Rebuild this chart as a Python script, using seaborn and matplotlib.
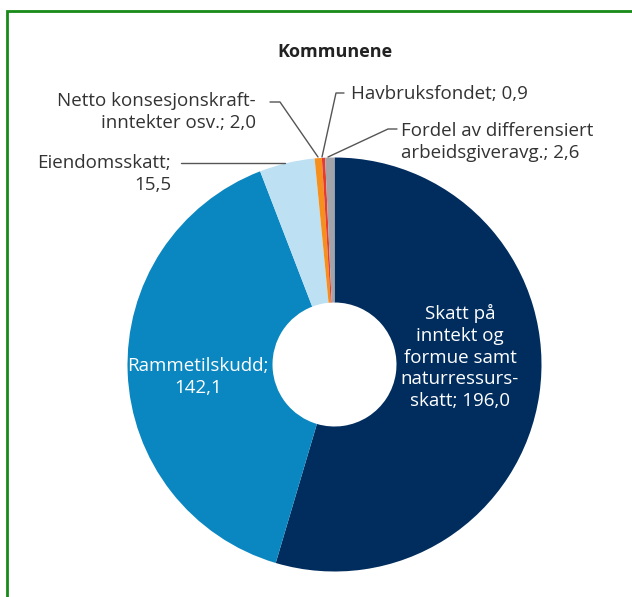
import matplotlib.pyplot as plt
import seaborn as sns

# verdier (mrd. kroner)
categories = ["Skatt på\ninntekt og\nformue samt\nnaturressurs-\nskatt",
              "Rammetilskudd;\n", "Eiendomsskatt;\n",
              "Netto konsesjonskraft-\ninntekter osv.; ",
              "Havbruksfondet; ", "Fordel av differensiert\narbeidsgiveravg.; "]
values = [196.0, 142.1, 15.5, 2.0, 0.9, 2.6]
colors = ["#002d5e", "#0a87c0", "#bde0f3", "#f5901e", "#e63b2e", "#a2a4aa"]

sns.set_theme(style="white")
plt.rcParams["font.family"] = ["Open Sans", "DejaVu Sans"]

W, H = 632, 597
fig = plt.figure(figsize=(W / 100, H / 100), dpi=100)
ax = fig.add_axes([0, 0, 1, 1])


def Y(y):
    return H - y


cx, cy, r = 334.5, 364.5, 207
wedges, _ = ax.pie(values, colors=colors, startangle=90, counterclock=False,
                   center=(cx, Y(cy)), radius=r, frame=True,
                   wedgeprops=dict(width=r - 62, linewidth=0))
ax.set_xlim(0, W)
ax.set_ylim(0, H)
ax.set_aspect("equal")
ax.set_axis_off()


def fmt(v):
    return f"{v:.1f}".replace(".", ",")


txt = "#333333"
fs = 13.5
ls = 1.28
ax.text(335, Y(52), "Kommunene", ha="center", va="center",
        fontsize=13, fontweight="bold", color="#222222")

# innvendige etiketter
ax.text(460, Y(357), categories[0] + "; " + fmt(values[0]), ha="center",
        va="center", color="white", fontsize=fs, linespacing=ls)
ax.text(198, Y(377), categories[1] + fmt(values[1]), ha="center",
        va="center", color="white", fontsize=fs, linespacing=ls)

# utvendige etiketter med linjer
lc = "#555555"
ax.text(171, Y(174), categories[2] + fmt(values[2]), ha="right",
        va="center", color=txt, fontsize=fs, linespacing=ls,
        multialignment="right")
ax.plot([181, 285], [Y(163), Y(163)], color=lc, lw=1)

ax.text(256, Y(112), categories[3] + fmt(values[3]), ha="right",
        va="center", color=txt, fontsize=fs, linespacing=ls,
        multialignment="right")
ax.plot([270, 280, 318], [Y(102), Y(102), Y(157)], color=lc, lw=1)

ax.text(351, Y(94), categories[4] + fmt(values[4]), ha="left",
        va="center", color=txt, fontsize=fs)
ax.plot([344, 336, 322], [Y(93), Y(93), Y(157)], color=lc, lw=1)

ax.text(401, Y(142), categories[5] + fmt(values[5]), ha="left",
        va="center", color=txt, fontsize=fs, linespacing=ls)
ax.plot([397, 388, 328], [Y(129), Y(129), Y(157)], color=lc, lw=1)

# grønn ramme
ax.plot([7, 7, W], [0, Y(11), Y(11)], color="#178a17", lw=2,
        solid_joinstyle="miter")

fig.savefig("out.png", dpi=100)
